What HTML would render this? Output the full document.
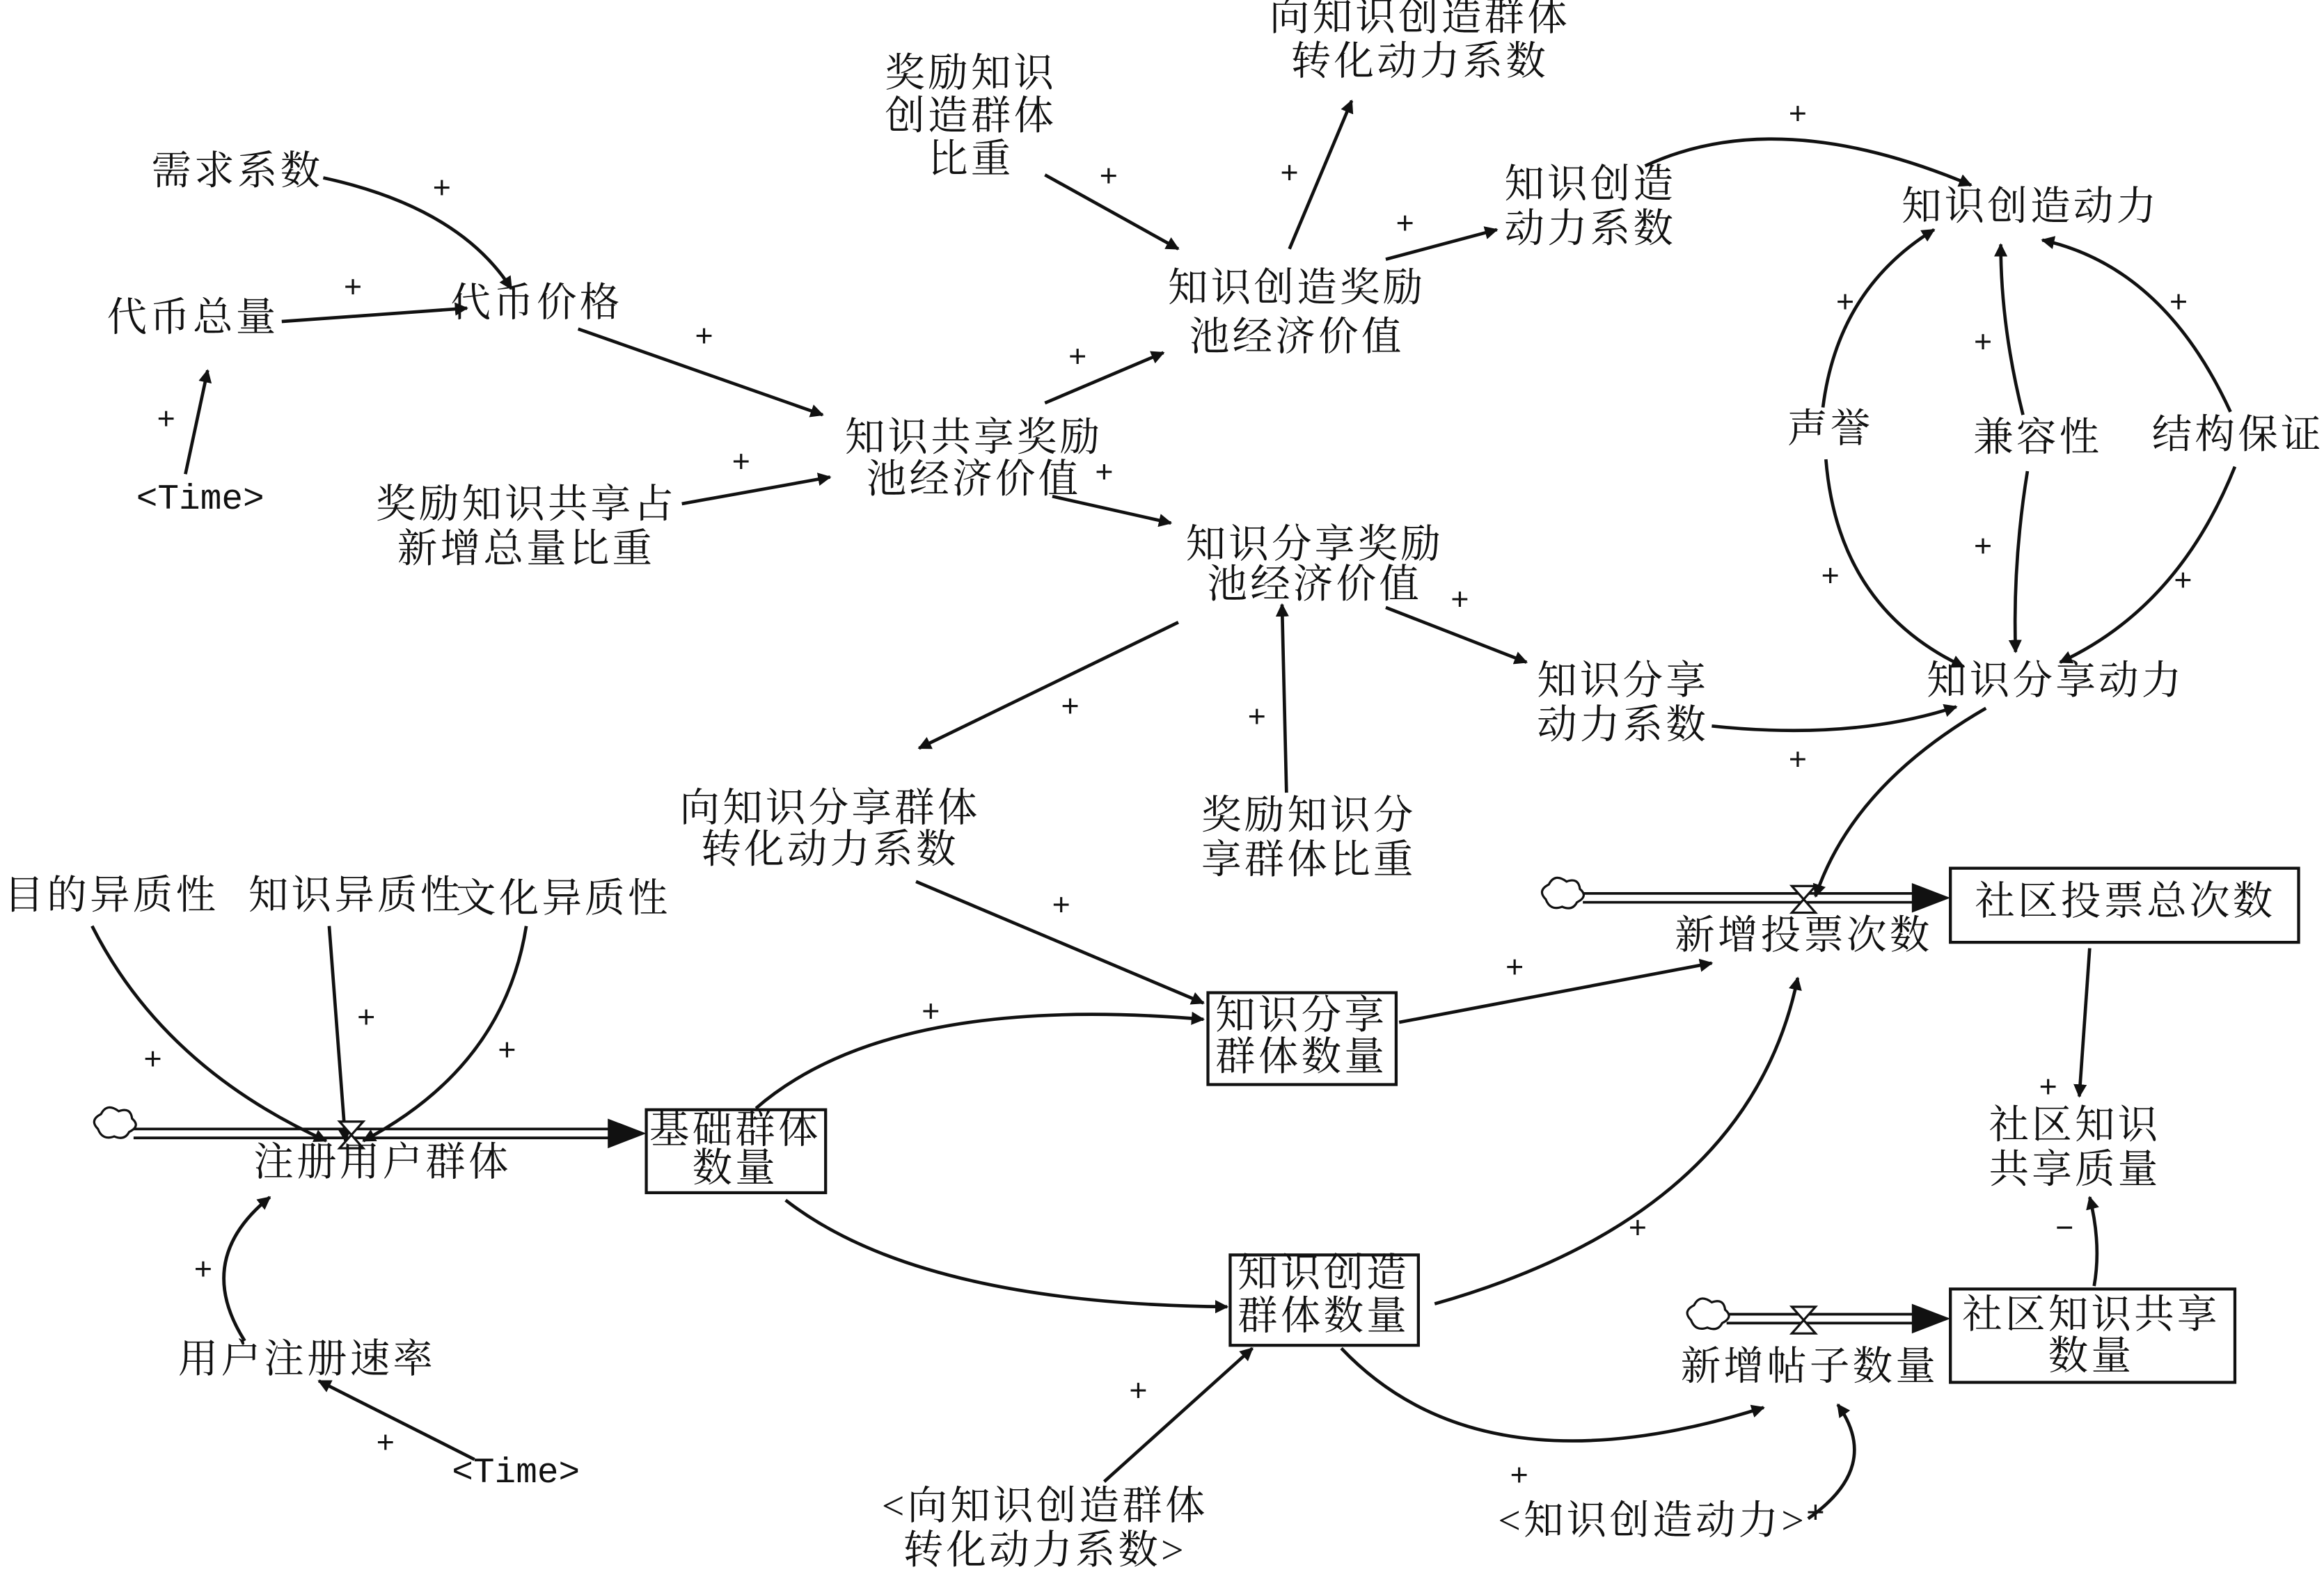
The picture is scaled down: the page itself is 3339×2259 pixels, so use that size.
<!DOCTYPE html>
<html><head><meta charset="utf-8"><style>
html,body{margin:0;padding:0;background:#fff;}
svg{display:block;}
text{font-family:"Liberation Serif","Noto Serif CJK SC","Noto Sans CJK SC",serif;font-size:27px;letter-spacing:2px;fill:#111;text-anchor:middle;dominant-baseline:middle;}
text.p{font-size:21px;letter-spacing:0;font-family:"Liberation Sans",sans-serif;}
text.t{font-family:"Liberation Mono",monospace;font-size:24px;letter-spacing:0;}
</style></head><body>
<svg width="3339" height="2259" viewBox="0 0 1568 1061" xmlns="http://www.w3.org/2000/svg">
<defs>
<marker id="a" viewBox="0 0 10 10" refX="9" refY="5" markerWidth="9" markerHeight="9" markerUnits="userSpaceOnUse" orient="auto"><path d="M0,0 L10,5 L0,10 z" fill="#111"/></marker>
</defs>
<g fill="none" stroke="#111" stroke-width="2.2" marker-end="url(#a)">
<path d="M218,120 Q310,140 345,195"/>
<path d="M190,217 L315,208"/>
<path d="M125,320 L140,250"/>
<path d="M390,222 L555,280"/>
<path d="M460,340 L560,322"/>
<path d="M705,272 L785,238"/>
<path d="M710,335 L790,353"/>
<path d="M705,118 L795,168"/>
<path d="M870,168 L912,68"/>
<path d="M935,175 L1010,155"/>
<path d="M1110,112 Q1200,70 1330,125"/>
<path d="M1230,275 Q1240,195 1305,155"/>
<path d="M1365,280 Q1350,220 1350,165"/>
<path d="M1505,278 Q1460,180 1378,162"/>
<path d="M1232,310 Q1240,410 1325,450"/>
<path d="M1368,318 Q1358,380 1360,440"/>
<path d="M1508,315 Q1470,410 1390,447"/>
<path d="M935,410 L1030,447"/>
<path d="M1155,490 Q1250,500 1320,477"/>
<path d="M795,420 L620,505"/>
<path d="M868,535 L865,408"/>
<path d="M618,595 L812,677"/>
<path d="M510,748 Q600,670 812,688"/>
<path d="M944,690 L1155,650"/>
<path d="M1340,478 Q1250,530 1225,605"/>
<path d="M530,810 Q620,880 828,882"/>
<path d="M968,880 Q1180,820 1213,660"/>
<path d="M905,910 Q1000,1010 1190,950"/>
<path d="M1220,1025 Q1270,990 1240,948"/>
<path d="M745,1000 L845,910"/>
<path d="M1410,640 L1403,740"/>
<path d="M1413,868 Q1418,840 1410,808"/>
<path d="M62,625 Q110,720 220,770"/>
<path d="M222,625 L233,770"/>
<path d="M355,625 Q340,720 245,770"/>
<path d="M165,905 Q130,850 182,808"/>
<path d="M320,985 L215,932"/>
</g>
<g stroke="#111" stroke-width="1.8" fill="none">
<line x1="90" y1="762" x2="420" y2="762"/><line x1="90" y1="768" x2="420" y2="768"/>
<line x1="1068" y1="603" x2="1300" y2="603"/><line x1="1068" y1="609" x2="1300" y2="609"/>
<line x1="1165" y1="887" x2="1300" y2="887"/><line x1="1165" y1="893" x2="1300" y2="893"/>
</g>
<g fill="#111">
<path d="M410,755 L436,765 L410,775 z"/>
<path d="M1290,596 L1316,606 L1290,616 z"/>
<path d="M1290,880 L1316,890 L1290,900 z"/>
</g>
<g fill="#fff" stroke="#111" stroke-width="1.5">
<path d="M229,757 L245,757 L229,775 L245,775 z"/>
<path d="M1209,598 L1225,598 L1209,616 L1225,616 z"/>
<path d="M1209,882 L1225,882 L1209,900 L1225,900 z"/>
<path d="M66,762 q-6,-6 2,-10 q4,-8 12,-2 q8,-3 9,5 q6,5 -2,9 q-3,6 -10,3 q-8,3 -11,-5z"/>
<path d="M1043,607 q-6,-6 2,-10 q4,-8 12,-2 q8,-3 9,5 q6,5 -2,9 q-3,6 -10,3 q-8,3 -11,-5z"/>
<path d="M1141,891 q-6,-6 2,-10 q4,-8 12,-2 q8,-3 9,5 q6,5 -2,9 q-3,6 -10,3 q-8,3 -11,-5z"/>
</g>
<g fill="none" stroke="#111" stroke-width="2">
<rect x="1316" y="586" width="235" height="50"/>
<rect x="815" y="670" width="127" height="62"/>
<rect x="436" y="749" width="121" height="56"/>
<rect x="830" y="847" width="127" height="61"/>
<rect x="1316" y="870" width="192" height="63"/>
</g>
<text x="160" y="118">需求系数</text>
<text x="130" y="217">代币总量</text>
<text x="362" y="207">代币价格</text>
<text class="t" x="135" y="337">&lt;Time&gt;</text>
<text x="655" y="52">奖励知识</text><text x="655" y="81">创造群体</text><text x="655" y="110">比重</text>
<text x="958" y="14">向知识创造群体</text><text x="958" y="44">转化动力系数</text>
<text x="1073" y="127">知识创造</text><text x="1073" y="157">动力系数</text>
<text x="1370" y="142">知识创造动力</text>
<text x="875" y="197">知识创造奖励</text><text x="875" y="230">池经济价值</text>
<text x="657" y="298">知识共享奖励</text><text x="657" y="326">池经济价值</text>
<text x="355" y="343">奖励知识共享占</text><text x="355" y="373">新增总量比重</text>
<text x="887" y="370">知识分享奖励</text><text x="887" y="397">池经济价值</text>
<text x="1235" y="292">声誉</text>
<text x="1375" y="298">兼容性</text>
<text x="1510" y="296">结构保证</text>
<text x="1387" y="462">知识分享动力</text>
<text x="1095" y="462">知识分享</text><text x="1095" y="492">动力系数</text>
<text x="560" y="548">向知识分享群体</text><text x="560" y="576">转化动力系数</text>
<text x="883" y="553">奖励知识分</text><text x="883" y="583">享群体比重</text>
<text x="75" y="607">目的异质性</text>
<text x="240" y="607">知识异质性</text>
<text x="380" y="609">文化异质性</text>
<text x="1434" y="611">社区投票总次数</text>
<text x="1217" y="634">新增投票次数</text>
<text x="878" y="688">知识分享</text><text x="878" y="716">群体数量</text>
<text x="496" y="765">基础群体</text><text x="496" y="791">数量</text>
<text x="258" y="787">注册用户群体</text>
<text x="1400" y="762">社区知识</text><text x="1400" y="792">共享质量</text>
<text x="207" y="920">用户注册速率</text>
<text class="t" x="348" y="994">&lt;Time&gt;</text>
<text x="893" y="862">知识创造</text><text x="893" y="891">群体数量</text>
<text x="1411" y="890">社区知识共享</text><text x="1411" y="918">数量</text>
<text x="1221" y="925">新增帖子数量</text>
<text x="1115" y="1029">&lt;知识创造动力&gt;</text>
<text x="705" y="1019">&lt;向知识创造群体</text><text x="705" y="1049">转化动力系数&gt;</text>
<text class="p" x="298" y="128">+</text><text class="p" x="238" y="195">+</text><text class="p" x="112" y="284">+</text>
<text class="p" x="475" y="228">+</text><text class="p" x="500" y="313">+</text><text class="p" x="727" y="242">+</text>
<text class="p" x="745" y="320">+</text><text class="p" x="748" y="120">+</text><text class="p" x="870" y="118">+</text>
<text class="p" x="948" y="152">+</text><text class="p" x="1213" y="78">+</text><text class="p" x="1245" y="205">+</text>
<text class="p" x="1338" y="232">+</text><text class="p" x="1470" y="205">+</text><text class="p" x="1235" y="390">+</text>
<text class="p" x="1338" y="370">+</text><text class="p" x="1473" y="393">+</text><text class="p" x="985" y="406">+</text>
<text class="p" x="1213" y="514">+</text><text class="p" x="722" y="478">+</text><text class="p" x="848" y="485">+</text>
<text class="p" x="716" y="612">+</text><text class="p" x="628" y="684">+</text><text class="p" x="1022" y="654">+</text>
<text class="p" x="1105" y="830">+</text><text class="p" x="1025" y="997">+</text><text class="p" x="1225" y="1022">+</text>
<text class="p" x="768" y="940">+</text><text class="p" x="1382" y="735">+</text><text class="p" x="1393" y="830">−</text>
<text class="p" x="103" y="716">+</text><text class="p" x="247" y="688">+</text><text class="p" x="342" y="710">+</text>
<text class="p" x="137" y="858">+</text><text class="p" x="260" y="975">+</text>
</svg>
</body></html>
